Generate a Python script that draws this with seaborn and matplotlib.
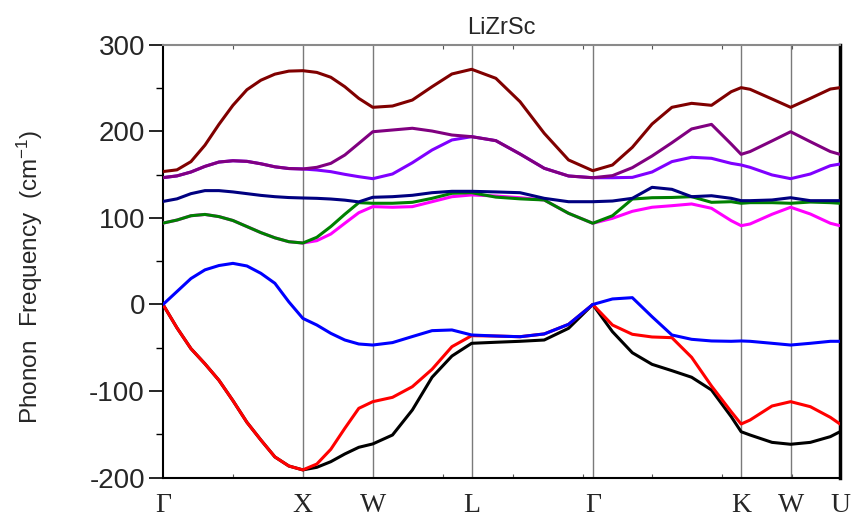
import numpy as np
import pandas as pd
import matplotlib
matplotlib.use("Agg")
import matplotlib.pyplot as plt
import seaborn as sns
from matplotlib.ticker import MultipleLocator

# ---- k-path (units of 2*pi/a) ----
k_path = [0.0, 0.1, 0.2, 0.3, 0.4, 0.5, 0.6, 0.7, 0.8, 0.9, 1.0,
          1.1, 1.2, 1.3, 1.4, 1.5,
          1.641, 1.783, 1.924, 2.066, 2.207,
          2.380, 2.553, 2.726, 2.900, 3.073,
          3.214, 3.356, 3.497, 3.639, 3.780, 3.922, 4.063, 4.134,
          4.198, 4.355, 4.488,
          4.629, 4.772, 4.841]

sym_labels = ["Γ", "X", "W", "L", "Γ", "K", "W", "U"]
sym_pos = [0.0, 1.0, 1.5, 2.207, 3.073, 4.134, 4.488, 4.841]

band1 = [0, -27, -51, -68.5, -87.5, -111, -136, -156.5, -176, -186.5, -191,
         -188, -181.5, -172.6, -164.9, -161,
         -150.7, -121.8, -84, -59.5, -44.8,
         -43.6, -42.5, -41, -27.5, 0,
         -31.4, -55.7, -69.1, -76.4, -84, -98.7, -129.5, -146.9,
         -150.7, -159.2, -161.4,
         -159.2, -152.6, -146.9]
band2 = [0, -27, -51, -68.5, -87.5, -111, -136, -156.5, -176, -186.5, -191,
         -184.2, -167.2, -143, -119.9, -112.2,
         -107.2, -94.9, -74.8, -48.7, -36,
         -36.4, -37.2, -34, -22.9, 0,
         -23.7, -34.4, -37.5, -38.3, -61, -94.1, -123.8, -138,
         -133.4, -117.2, -112.2,
         -118, -130.3, -138]
band3 = [0, 15, 30, 40, 45, 47.5, 44.5, 36, 24.5, 3, -16,
         -23.7, -33.3, -41, -45.6, -46.8,
         -44, -37, -30.2, -29.4, -35.2,
         -36.4, -37.2, -34, -22.9, 0,
         6.4, 7.9, -14.1, -35.2, -40.2, -42.1, -42.5, -42.1,
         -42.5, -44.8, -46.8,
         -44.8, -42.5, -42.5]
band4 = [94, 97.5, 102.5, 104, 101.5, 97, 90, 83, 77, 72.5, 71,
         77.6, 90, 104.2, 117.6, 116.9,
         116.9, 118, 122.6, 128.4, 129.1,
         124, 122, 120.7, 105.3, 93.8,
         102.5, 121.8, 123.3, 123.6, 124.5, 118, 118.7, 116.9,
         117.6, 117.6, 116.9,
         118.3, 117.6, 116.9]
band5 = [94, 97.5, 102.5, 104, 101.5, 97, 90, 83, 77, 72.5, 71,
         73.7, 81.4, 93.8, 106, 113,
         112.3, 113, 118.7, 124.5, 126.5,
         125.3, 123.3, 120.7, 105.3, 93.8,
         99.5, 107.6, 112.3, 114.1, 116.1, 111.1, 96.8, 91,
         93, 104.2, 112.3,
         104.5, 93.8, 91]
band6 = [119, 122, 128, 131.5, 131.5, 130, 128, 126, 124.5, 123.5, 123,
         122.6, 121.8, 120.5, 118.5, 123.8,
         124.5, 126.1, 129.1, 130.7, 130.7,
         130, 129.1, 122.6, 118.7, 118.7,
         119.5, 122.6, 135.3, 133, 124.5, 125.6, 122.6, 119.9,
         119.9, 120.7, 123.3,
         119.9, 119.9, 119.9]
band7 = [146.5, 148.5, 153, 159.5, 164.5, 166, 165.3, 162.5, 159, 157, 156.5,
         155.3, 153.4, 150.3, 147.6, 145.3,
         150.7, 163.7, 178.4, 190, 193.8,
         189.2, 173.8, 157.3, 148.4, 146.4,
         146.4, 146.8, 153, 165, 170, 168.8, 163, 161.1,
         158.4, 149.6, 145.3,
         150.7, 160.3, 162.2]
band8 = [146.5, 148.5, 153, 159.5, 164.5, 166, 165.3, 162.5, 159, 157, 156.5,
         158.4, 163, 172.6, 186, 199.5,
         201.5, 203.5, 200.3, 195.7, 193.8,
         189.2, 173.8, 157.3, 148.4, 146.4,
         148.8, 158, 171.5, 186.8, 202.7, 208, 185.3, 173.4,
         176.6, 188.9, 199.5,
         188, 176.6, 173.4]
band9 = [153.5, 155.5, 165, 184, 208, 230, 248, 259, 266, 269.5, 270,
         268, 262.4, 251.5, 238, 227.7,
         229.2, 236.1, 251.5, 266.2, 271.6,
         261.2, 234.2, 197.7, 166.9, 154.5,
         161.1, 181.5, 208.4, 227.7, 232.3, 230, 245.7, 250.4,
         248.5, 237.3, 227.7,
         238, 248.8, 250.4]

bands = {"b1": band1, "b2": band2, "b3": band3, "b5": band5, "b4": band4,
         "b6": band6, "b7": band7, "b8": band8, "b9": band9}
colors = {"b1": "#000000", "b2": "#FF0000", "b3": "#0000FF", "b4": "#008000",
          "b5": "#FF00FF", "b6": "#000080", "b7": "#8000FF", "b8": "#800080",
          "b9": "#800000"}

rows = []
for name, vals in bands.items():
    for k, v in zip(k_path, vals):
        rows.append({"k": k, "freq": v, "band": name})
df = pd.DataFrame(rows)

sns.set_theme(style="white")
plt.rcParams["font.family"] = ["Liberation Sans", "DejaVu Sans"]
plt.rcParams["mathtext.fontset"] = "custom"
plt.rcParams["mathtext.rm"] = "Liberation Sans"
plt.rcParams["mathtext.it"] = "Liberation Sans"
plt.rcParams["mathtext.default"] = "rm"
plt.rcParams["axes.unicode_minus"] = False

fig = plt.figure(figsize=(8.55, 5.17), dpi=100)
ax = fig.add_axes([163 / 855, 1 - 477.7 / 517, (840 - 163) / 855, (477.7 - 44.7) / 517])

for p in sym_pos[1:-1]:
    ax.axvline(p, color="#7a7a7a", lw=1.0, zorder=1)

for name in bands:
    sns.lineplot(data=df[df["band"] == name], x="k", y="freq", color=colors[name],
                 lw=2.2, sort=False, estimator=None, ax=ax, zorder=3)

ax.set_xlim(0, sym_pos[-1])
ax.set_ylim(-200, 300)
ax.set_xticks(sym_pos)
ax.set_xticklabels(sym_labels, fontfamily=["Liberation Serif", "DejaVu Serif"], fontsize=20)
ax.xaxis.set_minor_locator(MultipleLocator(0.5))
ax.tick_params(axis="x", which="major", length=0, pad=11)
ax.tick_params(axis="x", which="minor", direction="in", length=3, width=0.8,
               top=True, bottom=True, color="#555555")
ax.set_yticks([-200, -100, 0, 100, 200, 300])
ax.yaxis.set_minor_locator(MultipleLocator(50))
ax.tick_params(axis="y", which="major", direction="out", length=10, width=1.2,
               labelsize=20, left=True, pad=3, color="black")
ax.tick_params(axis="y", which="minor", direction="out", length=5, width=1.0,
               left=True, color="black")
ax.set_xlabel("")
ax.set_ylabel("Phonon  Frequency  (cm$^{-1}$)", fontsize=17.5)
ax.yaxis.set_label_coords(-0.175, 0.463)
ax.set_title("LiZrSc", fontsize=17, pad=8)

for s in ["left", "bottom"]:
    ax.spines[s].set_color("black")
    ax.spines[s].set_linewidth(1.5)
ax.spines["right"].set_color("black")
ax.spines["right"].set_linewidth(2.5)
ax.spines["top"].set_color("#8a8a8a")
ax.spines["top"].set_linewidth(1.5)
ax.legend_ = None

fig.savefig("out.png", dpi=100)
